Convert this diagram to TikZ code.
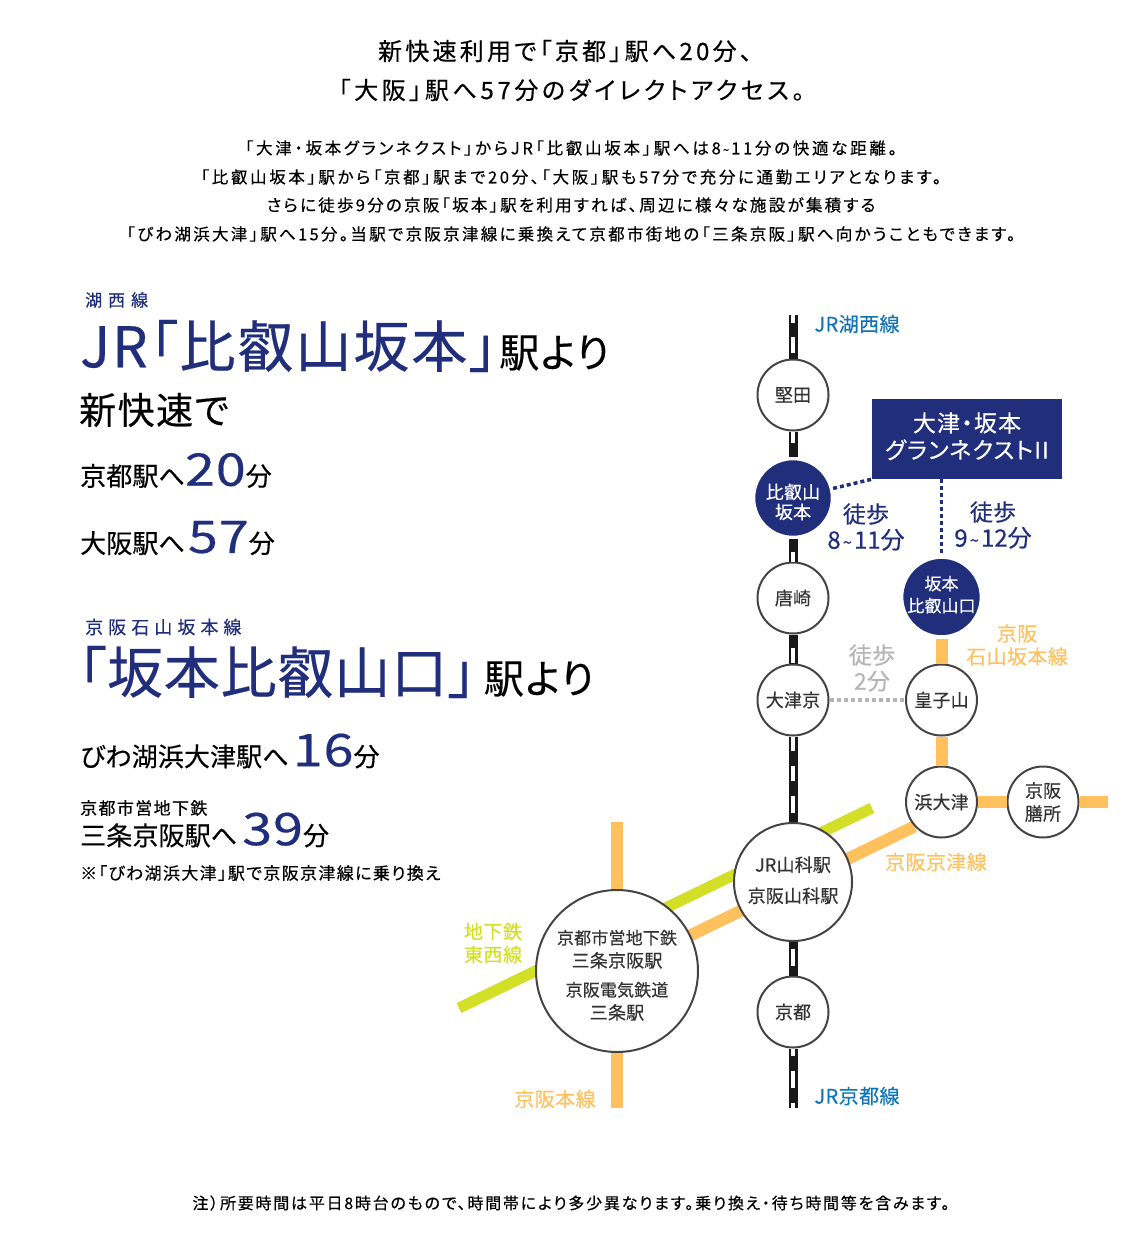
\documentclass[tikz,border=0pt]{standalone}
\usepackage{fontspec}
\setmainfont{Noto Sans CJK JP}[RawFeature=+palt, FakeBold=0.4]
\usetikzlibrary{backgrounds}
\definecolor{navyline}{HTML}{212E7C}
\definecolor{jrblue}{HTML}{0F74B8}
\definecolor{keihan}{HTML}{FFC05E}
\definecolor{subway}{HTML}{D3DF26}
\definecolor{walkgrey}{HTML}{B5B5B5}
\definecolor{ringgrey}{HTML}{444444}
\newcommand{\fsz}[2]{\fontsize{#2}{#2}\selectfont\addfontfeature{LetterSpace=#1}}
\newcommand{\til}{\kern2pt\scalebox{.7}{\textasciitilde}\kern2pt}
\newcommand{\mins}[1]{{\color{navyline}\fsz{2}{45}\addfontfeature{FakeStretch=1.2}#1}}

\begin{document}
\begin{tikzpicture}[
    x=1pt, y=-1pt,
    % station styles
    station/.style={draw=ringgrey, fill=white, circle, line width=2pt, inner sep=0pt,
      minimum size=71pt, align=center, text=black!80, font=\fsz{1}{18}},
    navystation/.style={station, draw=white, fill=navyline, text=white, line width=3.5pt, minimum size=79pt},
    % line styles
    jrline/.style={white, line width=4pt, preaction={draw=black!90, solid, line width=9pt}},
    keihanline/.style={keihan, line width=12pt},
    subwayline/.style={subway, line width=11pt},
    walkline/.style={navyline, line width=3.5pt, dash pattern=on 4pt off 3pt},
    % text styles
    plain/.style={inner sep=0pt, align=center},
    leftplain/.style={inner sep=0pt, anchor=west},
    linelabel/.style={plain, font=\fsz{2}{20}},
    walklabel/.style={plain, font=\fsz{1}{23}}
  ]
  \useasboundingbox (0,0) rectangle (1141,1244);

  % intro text
  \node[plain, font=\fsz{13.5}{24}] (head1) at (565,51) {新快速利用で「京都」駅へ20分、};
  \node[plain, font=\fsz{15}{24}] (head2) at (571.5,90) {「大阪」駅へ57分のダイレクトアクセス。};
  \node[plain, font=\fsz{16.5}{16.5}] (para1) at (571,148) {「大津・坂本グランネクスト」からJR「比叡山坂本」駅へは8\til11分の快適な距離。};
  \node[plain, font=\fsz{16}{16.5}] (para2) at (571,177) {「比叡山坂本」駅から「京都」駅まで20分、「大阪」駅も57分で充分に通勤エリアとなります。};
  \node[plain, font=\fsz{13.7}{16.5}] (para3) at (571,205) {さらに徒歩9分の京阪「坂本」駅を利用すれば、周辺に様々な施設が集積する};
  \node[plain, font=\fsz{14}{16.5}] (para4) at (571,234) {「びわ湖浜大津」駅へ15分。当駅で京阪京津線に乗換えて京都市街地の「三条京阪」駅へ向かうこともできます。};

  % left column
  \node[leftplain, text=navyline, font=\fsz{35}{17}] (kosei) at (85,300) {湖西線};
  \node[leftplain, text=navyline, font=\fsz{3.5}{56}] (jrhiei) at (80,346) {JR「比叡山坂本」\kern2pt{\color{black}\fsz{3}{40}駅より}};
  \node[leftplain, font=\fsz{4}{37}] (shin) at (79,410) {新快速で};
  \node[leftplain, font=\fsz{0.5}{26}] (kyoto20) at (80,470.5) {京都駅へ\mins{20}分};
  \node[leftplain, font=\fsz{0.5}{26}] (osaka57) at (80,538) {大阪駅へ\kern3pt\mins{57}分};
  \node[leftplain, text=navyline, font=\fsz{28}{18}] (ishiyama) at (85,627) {京阪石山坂本線};
  \node[leftplain, text=navyline, font=\fsz{1.5}{56}] (sakahiei) at (78,672) {「坂本比叡山口」\kern8pt{\color{black}\fsz{3}{40}駅より}};
  \node[leftplain, font=\fsz{0.5}{26}] (biwa16) at (80,751) {びわ湖浜大津駅へ\kern4pt\mins{16}分};
  \node[leftplain, font=\fsz{8}{17}] (subwayname) at (80,808) {京都市営地下鉄};
  \node[leftplain, font=\fsz{0.5}{26}] (sanjo39) at (80,830) {三条京阪駅へ\kern5pt\mins{39}分};
  \node[leftplain, font=\fsz{8}{17}] (transfer) at (80,873) {※「びわ湖浜大津」駅で京阪京津線に乗り換え};

  % stations
  \node[station] (katata) at (793,395) {堅田};
  \node[navystation] (hiei) at (793,498) {\mbox{}\\[5pt]比叡山\\[2pt]坂本};
  \node[station] (karasaki) at (793,598) {唐崎};
  \node[station] (otsukyo) at (793,700) {大津京};
  \node[station, minimum size=118pt] (yamashina) at (793,882) {JR山科駅\\[13pt]京阪山科駅\\[-13pt]\mbox{}};
  \node[station] (kyoto) at (793,1012) {京都};
  \node[navystation, font=\fsz{0}{17}] (sakamoto) at (941.5,597) {坂本\\[5pt]比叡山口\\[-11pt]\mbox{}};
  \node[station] (kojiyama) at (941.5,700) {皇子山};
  \node[station] (hamaotsu) at (941.5,802) {浜大津};
  \node[station] (zeze) at (1043,802) {京阪\\[5pt]膳所};
  \node[station, minimum size=162pt] (sanjo) at (617,971) {\mbox{}\\[5pt]{\fsz{1}{17}京都市営地下鉄}\\[5pt]三条京阪駅\\[11pt]{\fsz{1}{17}京阪電気鉄道}\\[5pt]三条駅};
  \node[fill=navyline, text=white, plain, minimum width=190pt, minimum height=80pt, font=\fsz{5}{23}] (home) at (967,439) {大津・坂本\\[4pt]グランネクストII\\[-16pt]\mbox{}};

  % free ends of lines
  \coordinate (jrtop) at (793,315);
  \coordinate (jrbottom) at (793,1108);
  \coordinate (sanjotop) at (617,822);
  \coordinate (sanjobottom) at (617,1108);
  \coordinate (zezeend) at (1108,802);
  \coordinate (tozaiwest) at (459,1008);
  \coordinate (tozaieast) at (872,808);

  % JR line
  \draw[jrline, dash pattern=on 8pt off 14pt on 16pt off 30pt] (jrtop) -- (katata);
  \draw[jrline, dash pattern=on 11pt off 30pt] (katata) -- (hiei);
  \draw[jrline, dash pattern=on 0pt off 13pt on 11pt off 20pt] (hiei) -- (karasaki);
  \draw[jrline, dash pattern=on 0pt off 13pt on 15pt off 20pt] (karasaki) -- (otsukyo);
  \draw[jrline, dash pattern=on 14pt off 15pt on 15pt off 15pt on 17pt off 20pt] (otsukyo) -- (yamashina);
  \draw[jrline, dash pattern=on 0pt off 7pt on 17pt off 20pt] (yamashina) -- (kyoto);
  \draw[jrline, dash pattern=on 7pt off 15pt on 17pt off 15pt on 6pt off 10pt] (kyoto) -- (jrbottom);

  % Keihan and subway lines
  \begin{pgfonlayer}{background}
    \draw[subwayline] (tozaiwest) -- (tozaieast);
    \draw[keihanline] (sanjo.center) -- (hamaotsu.222);
  \end{pgfonlayer}
  \draw[keihanline] (sanjotop) -- (sanjo);
  \draw[keihanline] (sanjo) -- (sanjobottom);
  \draw[keihanline] (sakamoto) -- (kojiyama);
  \draw[keihanline] (kojiyama) -- (hamaotsu);
  \draw[keihanline] (hamaotsu) -- (zeze);
  \draw[keihanline] (zeze) -- (zezeend);

  % walking routes
  \draw[walkline] (hiei) -- (home.south west);
  \draw[walkline] (home.south -| sakamoto) -- (sakamoto);
  \draw[walkline, walkgrey] (otsukyo) -- (kojiyama);

  % line labels
  \node[linelabel, text=jrblue] (koseilabel) at (857,324) {JR湖西線};
  \node[linelabel, text=jrblue] (kyotolabel) at (857,1096) {JR京都線};
  \node[walklabel, text=navyline] (walk1) at (866,527) {徒歩\\[3pt]{\fsz{0}{24}8\til11分}};
  \node[walklabel, text=navyline] (walk2) at (993,525) {徒歩\\[3pt]{\fsz{0}{24}9\til12分}};
  \node[walklabel, text=walkgrey] (walk3) at (872,668) {徒歩\\[3pt]2分};
  \node[linelabel, text=keihan] (ishiyamalabel) at (1017,645) {京阪\\[3pt]石山坂本線};
  \node[linelabel, text=keihan] (keishinlabel) at (936,862) {京阪京津線};
  \node[linelabel, text=subway, font=\fsz{3}{19}] (tozailabel) at (493,943) {地下鉄\\[4pt]東西線};
  \node[linelabel, text=keihan] (mainlabel) at (555,1099) {京阪本線};

  % footnote
  \node[plain, font=\fsz{11}{16}] (note) at (571,1203) {注）所要時間は平日8時台のもので、時間帯により多少異なります。乗り換え・待ち時間等を含みます。};
\end{tikzpicture}
\end{document}
